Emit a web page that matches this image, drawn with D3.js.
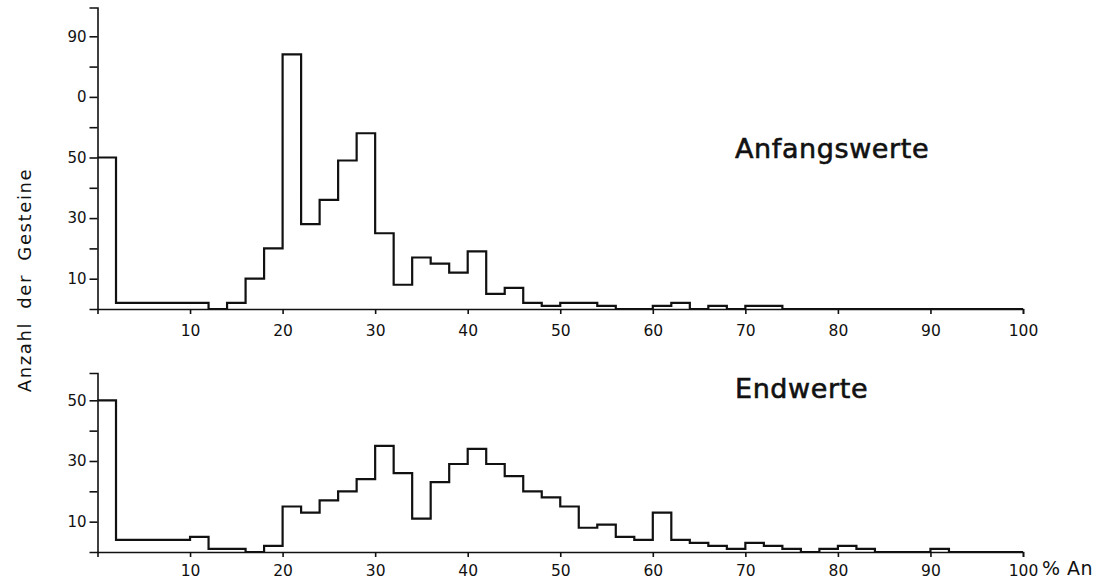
<!doctype html>
<html>
<head>
<meta charset="utf-8">
<script src="https://d3js.org/d3.v7.min.js"></script>
<style>
    body { margin: 0; background: #fff; }
    svg { display: block; }
    .axis path, .axis line { stroke: #111; stroke-width: 1.6px; }
    .axis text { fill: #111; font-family: "DejaVu Sans", sans-serif; }
    .hist { fill: none; stroke: #111; stroke-width: 2.2px; }
    .title { font-family: "DejaVu Sans", sans-serif; fill: #111; }
</style>
</head>
<body>
<svg id="chart"></svg>
<script>

    // bin edges, % An (2% wide classes)
    var binStart = [0, 2, 4, 6, 8, 10, 12, 14, 16, 18, 20, 22, 24, 26, 28, 30, 32, 34, 36, 38,
        40, 42, 44, 46, 48, 50, 52, 54, 56, 58, 60, 62, 64, 66, 68, 70, 72, 74, 76, 78,
        80, 82, 84, 86, 88, 90, 92, 94, 96, 98];

    // Anfangswerte
    var startValues = [50, 2, 2, 2, 2, 2, 0, 2, 10, 20, 84, 28, 36, 49, 58, 25, 8, 17, 15, 12,
        19, 5, 7, 2, 1, 2, 2, 1, 0, 0, 1, 2, 0, 1, 0, 1, 1, 0, 0, 0,
        0, 0, 0, 0, 0, 0, 0, 0, 0, 0];

    // Endwerte
    var endValues = [50, 4, 4, 4, 4, 5, 1, 1, 0, 2, 15, 13, 17, 20, 24, 35, 26, 11, 23, 29,
        34, 29, 25, 20, 18, 15, 8, 9, 5, 4, 13, 4, 3, 2, 1, 3, 2, 1, 0, 1,
        2, 1, 0, 0, 0, 1, 0, 0, 0, 0];

    var xTicks = [10, 20, 30, 40, 50, 60, 70, 80, 90, 100];
    var topYTicks = [10, 20, 30, 40, 50, 60, 70, 80, 90];
    var topYLabels = ["10", "", "30", "", "50", "", "0", "", "90"];
    var bottomYTicks = [10, 20, 30, 40, 50];
    var bottomYLabels = ["10", "", "30", "", "50"];

    var W = 1099, H = 580;

    var svg = d3.select("#chart")
        .attr("width", W)
        .attr("height", H);

    var x = d3.scaleLinear().domain([0, 100]).range([97.5, 1023]);

    function drawPanel(values, yMax, y0, y1, yTicks, yLabels, title, titleY, labelPad) {
        var y = d3.scaleLinear().domain([0, yMax]).range([y0, y1]);

        var pts = values.map(function (v, i) { return [binStart[i], v]; });
        pts.push([100, values[values.length - 1]]);

        var line = d3.line()
            .x(function (d) { return x(d[0]); })
            .y(function (d) { return y(d[1]); })
            .curve(d3.curveStepAfter);

        svg.append("path")
            .datum(pts)
            .attr("class", "hist")
            .attr("d", line);

        var xAxis = d3.axisBottom(x)
            .tickValues(xTicks)
            .tickSizeOuter(0)
            .tickSize(5)
            .tickPadding(labelPad);

        svg.append("g")
            .attr("class", "axis")
            .attr("transform", "translate(0," + y0 + ")")
            .call(xAxis)
            .selectAll("text")
            .style("font-size", "15.5px");

        var yAxis = d3.axisLeft(y)
            .tickValues(yTicks)
            .tickSizeOuter(0)
            .tickSize(8)
            .tickPadding(3)
            .tickFormat(function (d, i) { return yLabels[i]; });

        svg.append("g")
            .attr("class", "axis")
            .attr("transform", "translate(" + x(0) + ",0)")
            .call(yAxis)
            .selectAll("text")
            .style("font-size", "15px");

        svg.append("text")
            .attr("class", "title")
            .attr("x", 735)
            .attr("y", titleY)
            .style("font-size", "27px")
            .style("letter-spacing", "0.6px")
            .style("stroke", "#111")
            .style("stroke-width", "0.6px")
            .text(title);
    }

    drawPanel(startValues, 99.5, 309, 7.5, topYTicks, topYLabels, "Anfangswerte", 158, 11);
    drawPanel(endValues, 59, 552, 373, bottomYTicks, bottomYLabels, "Endwerte", 398, 8);

    svg.append("text")
        .attr("class", "title")
        .attr("transform", "translate(31,280) rotate(-90)")
        .attr("text-anchor", "middle")
        .style("font-size", "18px")
        .style("letter-spacing", "1.6px")
        .style("word-spacing", "6px")
        .text("Anzahl der Gesteine");

    svg.append("text")
        .attr("class", "title")
        .attr("x", 1042)
        .attr("y", 575)
        .style("font-size", "19px")
        .style("letter-spacing", "0.5px")
        .text("% An");

</script>
</body>
</html>
